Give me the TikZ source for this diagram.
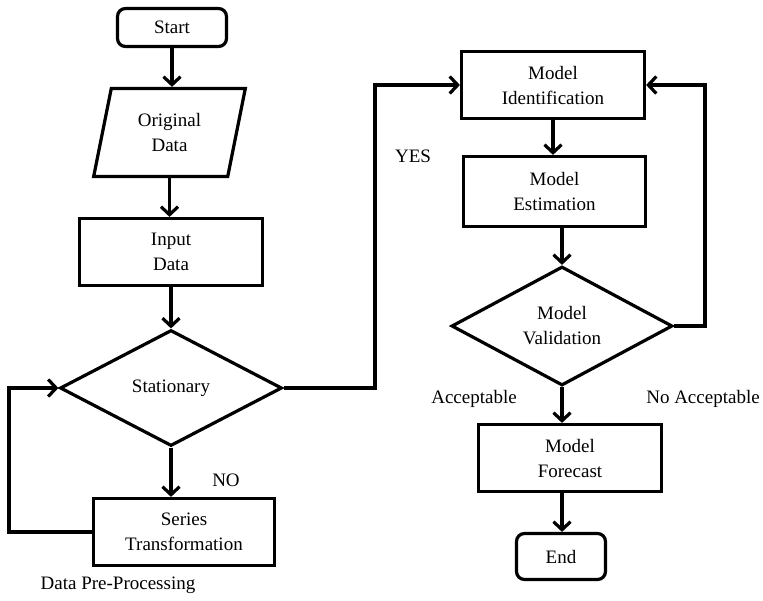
\documentclass[tikz,border=0pt]{standalone}
\usepackage{fontspec}
\setmainfont{Liberation Serif}
\usetikzlibrary{shapes.geometric,arrows.meta}
\begin{document}
\begin{tikzpicture}[x=1pt,y=-1pt,
  every node/.style={font=\fontsize{19}{25}\selectfont, align=center, inner sep=0pt},
  box/.style={draw, line width=3.2pt, rectangle},
  rbox/.style={box, rounded corners=8pt},
  dia/.style={draw, line width=3.2pt, diamond, line join=miter},
  para/.style={draw, line width=3.2pt, trapezium, trapezium left angle=76, trapezium right angle=104, trapezium stretches=true},
  arr/.style={line width=3.2pt, -{Straight Barb[length=8pt,width=17pt,line width=3.2pt]}},
  lbl/.style={font=\fontsize{19}{25}\selectfont}]
\useasboundingbox (0,0) rectangle (763,600);
\fill[white] (0,0) rectangle (763,600);
\node[rbox, minimum width=109pt, minimum height=38pt] (start) at (172,27.5) {Start};
\node[para, minimum width=152pt, minimum height=88pt] (orig) at (169.5,132.5) {Original\\Data};
\node[box, minimum width=183pt, minimum height=67pt] (inp) at (171,252) {Input\\Data};
\node[dia, minimum width=222pt, minimum height=116pt] (stat) at (171,388) {Stationary};
\node[box, minimum width=181pt, minimum height=67pt] (ser) at (184,532) {Series\\Transformation};
\node[box, minimum width=183pt, minimum height=67pt] (mid) at (553,85) {Model\\Identification};
\node[box, minimum width=182pt, minimum height=70pt] (mest) at (554.5,191.5) {Model\\Estimation};
\node[dia, minimum width=221pt, minimum height=119pt] (mval) at (562,326) {Model\\Validation};
\node[box, minimum width=183pt, minimum height=67pt] (mfor) at (570,458) {Model\\Forecast};
\node[rbox, minimum width=89pt, minimum height=46pt] (end) at (561,556.5) {End};
\node[lbl] (yes) at (413,156) {YES};
\node[lbl] (no) at (226,480) {NO};
\node[lbl] (acc) at (474,399) {Acceptable};
\node[lbl] (nacc) at (703,399) {No Acceptable};
\node[lbl] (dpp) at (118,585) {Data Pre-Processing};
\coordinate (loopL) at (9,530);
\coordinate (yesc) at (375,388);
\coordinate (loopR) at (705,326);
\draw[arr] (start.south) -- (start.south |- orig.north);
\draw[arr] (orig.south) -- (orig.south |- inp.north);
\draw[arr] (inp.south) -- (stat.north);
\draw[arr] (stat.south) -- (stat.south |- ser.north);
\draw[arr] (ser.west) -- (ser.west -| loopL) |- (stat.west);
\draw[arr] (stat.east) -- (stat.east -| yesc) |- (mid.west);
\draw[arr] (mid.south) -- (mid.south |- mest.north);
\draw[arr] (mval.north |- mest.south) -- (mval.north);
\draw[arr] (mval.east) -- (loopR) |- (mid.east);
\draw[arr] (mval.south) -- (mval.south |- mfor.north);
\draw[arr] (mval.south |- mfor.south) -- (mval.south |- end.north);
\end{tikzpicture}
\end{document}
